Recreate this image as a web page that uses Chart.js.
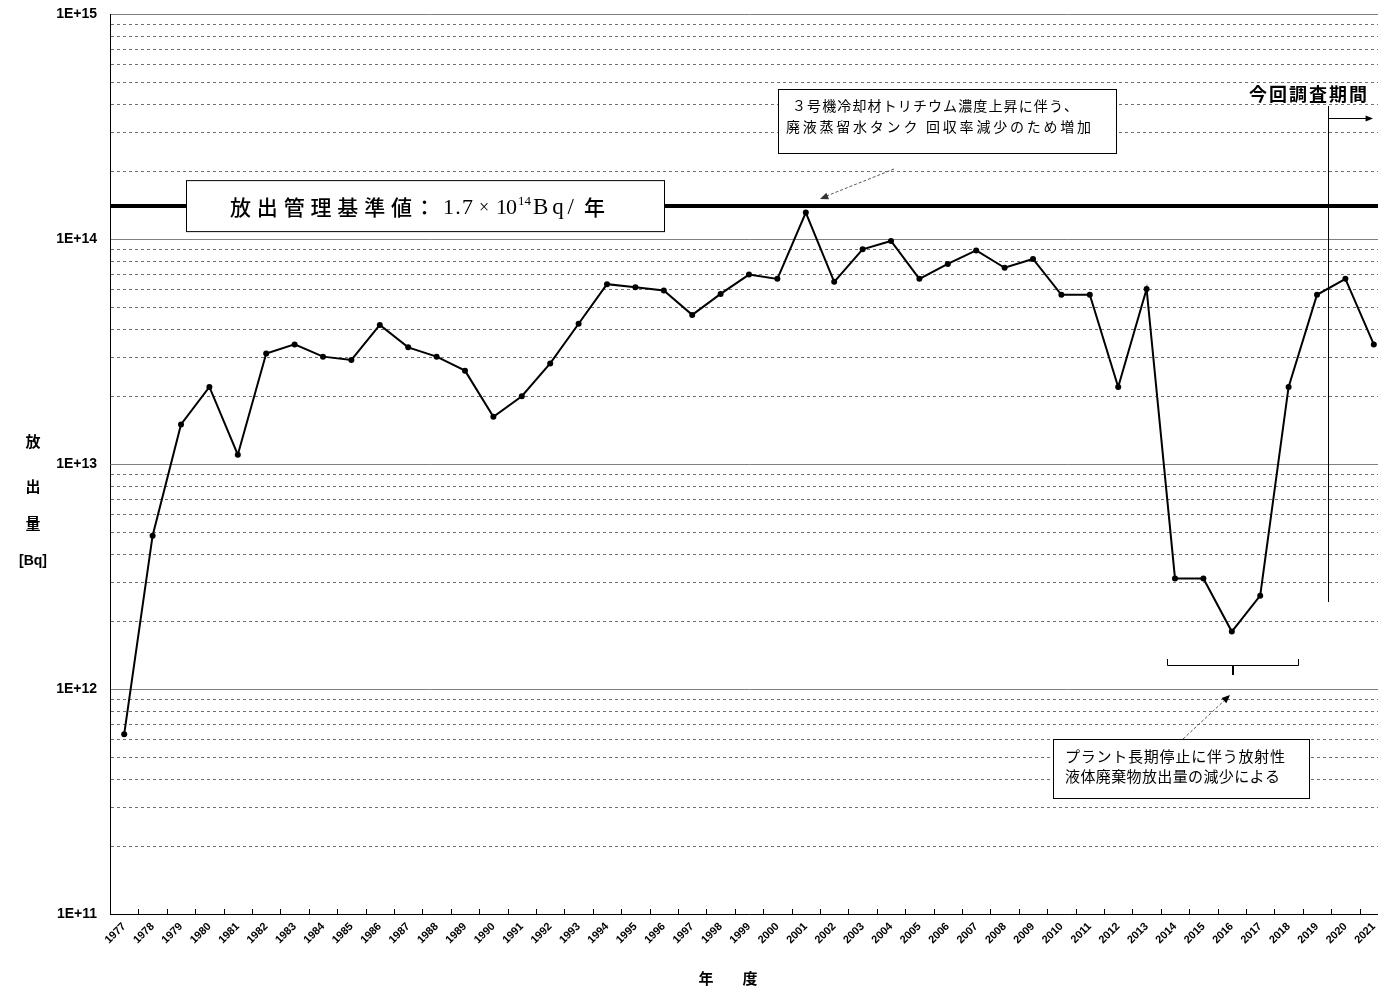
<!DOCTYPE html>
<html><head><meta charset="utf-8">
<script src="https://cdn.jsdelivr.net/npm/chart.js@4.4.0/dist/chart.umd.min.js"></script>
<style>
html,body{margin:0;padding:0;background:#fff;overflow:hidden;width:1378px;height:990px}
#wrap{position:absolute;left:0;top:0;width:1392px;height:990px}
</style>
</head><body><div id="wrap"><canvas id="c" width="1392" height="990"></canvas></div>
<script>
const years = ['1977','1978','1979','1980','1981','1982','1983','1984','1985','1986','1987','1988','1989','1990','1991','1992','1993','1994','1995','1996','1997','1998','1999','2000','2001','2002','2003','2004','2005','2006','2007','2008','2009','2010','2011','2012','2013','2014','2015','2016','2017','2018','2019','2020','2021'];
const releases = [6.3e11,4.8e12,1.5e13,2.2e13,1.1e13,3.1e13,3.4e13,3.0e13,2.9e13,4.15e13,3.3e13,3.0e13,2.6e13,1.62e13,2.0e13,2.8e13,4.2e13,6.3e13,6.1e13,5.9e13,4.6e13,5.7e13,6.95e13,6.65e13,1.31e14,6.45e13,9.0e13,9.8e13,6.65e13,7.75e13,8.9e13,7.45e13,8.15e13,5.65e13,5.65e13,2.2e13,6.0e13,3.1e12,3.1e12,1.8e12,2.6e12,2.2e13,5.65e13,6.65e13,3.4e13];
const yTickValues = [1e11,1e12,1e13,1e14,1e15];
const yTickLabels = ['1E+11','1E+12','1E+13','1E+14','1E+15'];
const limitValue = 1.4e14;
const limitLabel = ['放出管理基準値', '：', '1.7', '×', '10', '14', 'Bq/', '年'];
const note1 = ['３号機冷却材トリチウム濃度上昇に伴う、', '廃液蒸留水タンク 回収率減少のため増加'];
const note2 = ['プラント長期停止に伴う放射性', '液体廃棄物放出量の減少による'];
const periodLabel = '今回調査期間';
const yTitle = ['放', '出', '量', '[Bq]'];
const xTitle = ['年', '度'];

const minorGrid = [];
for (let e = 11; e < 15; e++) for (let m = 2; m <= 9; m++) minorGrid.push(m * Math.pow(10, e));

const CJK = '"Noto Sans CJK JP", "Noto Sans", sans-serif';
const SERIF = '"Liberation Serif", "DejaVu Serif", serif';

function drawSpaced(ctx, text, x, y, target) {
  const chars = [...text];
  let total = 0;
  const ws = chars.map(c => { const w = ctx.measureText(c).width; total += w; return w; });
  const extra = chars.length > 1 ? (target - total) / (chars.length - 1) : 0;
  let cx = x;
  chars.forEach((c, i) => { ctx.fillText(c, cx, y); cx += ws[i] + extra; });
}
function arrowHead(ctx, x1, y1, x2, y2, size) {
  const a = Math.atan2(y2 - y1, x2 - x1);
  ctx.beginPath();
  ctx.moveTo(x2, y2);
  ctx.lineTo(x2 - size * Math.cos(a - 0.4), y2 - size * Math.sin(a - 0.4));
  ctx.lineTo(x2 - size * Math.cos(a + 0.4), y2 - size * Math.sin(a + 0.4));
  ctx.closePath();
  ctx.fill();
}

const gridPlugin = {
  id: 'gridPlugin',
  beforeDatasetsDraw(chart) {
    const {ctx, chartArea, scales} = chart;
    const y = scales.y, x = scales.x;
    ctx.save();
    ctx.strokeStyle = '#707070';
    ctx.lineWidth = 1;
    ctx.setLineDash([3, 3]);
    minorGrid.forEach(v => {
      const py = Math.round(y.getPixelForValue(v)) + 0.5;
      ctx.beginPath(); ctx.moveTo(chartArea.left + 1, py); ctx.lineTo(chartArea.right, py); ctx.stroke();
    });
    ctx.setLineDash([]);
    ctx.strokeStyle = '#000';
    for (let i = 1; i < years.length; i++) {
      const px = Math.round((x.getPixelForValue(i - 1) + x.getPixelForValue(i)) / 2) + 0.5;
      ctx.beginPath(); ctx.moveTo(px, chartArea.bottom); ctx.lineTo(px, chartArea.bottom - 5); ctx.stroke();
    }
    const ly = y.getPixelForValue(limitValue);
    ctx.lineWidth = 4;
    ctx.beginPath(); ctx.moveTo(chartArea.left, ly); ctx.lineTo(chartArea.right, ly); ctx.stroke();
    ctx.restore();
  },
  afterDatasetsDraw(chart) {
    const {ctx, chartArea, scales} = chart;
    const y = scales.y, x = scales.x;
    ctx.save();
    ctx.strokeStyle = '#000';
    const ly = y.getPixelForValue(limitValue);
    ctx.fillStyle = '#fff';
    ctx.fillRect(186, ly - 26, 478, 51);
    ctx.lineWidth = 1;
    ctx.strokeRect(186.5, ly - 25.5, 478, 51);
    ctx.fillStyle = '#000';
    ctx.textBaseline = 'middle';
    ctx.textAlign = 'left';
    ctx.font = '500 21px ' + CJK;
    drawSpaced(ctx, limitLabel[0], 230, ly + 1, 182);
    ctx.fillText(limitLabel[1], 414, ly + 1);
    ctx.font = '22px ' + SERIF;
    drawSpaced(ctx, limitLabel[2], 443, ly + 2, 30);
    ctx.font = '18px ' + SERIF;
    ctx.fillText(limitLabel[3], 479, ly + 2);
    ctx.font = '22px ' + SERIF;
    drawSpaced(ctx, limitLabel[4], 496, ly + 2, 21);
    ctx.font = '13px ' + SERIF;
    ctx.fillText(limitLabel[5], 518, ly - 5);
    ctx.font = '23px ' + SERIF;
    drawSpaced(ctx, limitLabel[6], 533, ly + 2, 41);
    ctx.font = '500 21px ' + CJK;
    ctx.fillText(limitLabel[7], 584, ly + 1);

    ctx.fillStyle = '#fff';
    ctx.fillRect(778, 89, 338, 64);
    ctx.strokeRect(778.5, 89.5, 338, 64);
    ctx.fillStyle = '#000';
    ctx.font = '14px ' + CJK;
    drawSpaced(ctx, note1[0], 792, 106, 286);
    drawSpaced(ctx, note1[1], 786, 127, 305);
    ctx.strokeStyle = '#555';
    ctx.setLineDash([3, 2]);
    ctx.beginPath(); ctx.moveTo(894, 169); ctx.lineTo(824, 197); ctx.stroke();
    ctx.setLineDash([]);
    ctx.fillStyle = '#333';
    arrowHead(ctx, 894, 169, 820, 199, 9);

    ctx.fillStyle = '#fff';
    ctx.fillRect(1053, 739, 256, 59);
    ctx.strokeStyle = '#000';
    ctx.strokeRect(1053.5, 739.5, 256, 59);
    ctx.fillStyle = '#000';
    ctx.font = '15px ' + CJK;
    drawSpaced(ctx, note2[0], 1065, 756, 220);
    drawSpaced(ctx, note2[1], 1065, 776, 215);
    ctx.strokeStyle = '#555';
    ctx.setLineDash([3, 2]);
    ctx.beginPath(); ctx.moveTo(1183, 739); ctx.lineTo(1226, 699); ctx.stroke();
    ctx.setLineDash([]);
    ctx.fillStyle = '#000';
    arrowHead(ctx, 1183, 739, 1230, 695, 9);
    ctx.strokeStyle = '#000';
    ctx.lineWidth = 1;
    ctx.beginPath();
    ctx.moveTo(1167.5, 659); ctx.lineTo(1167.5, 665.5); ctx.lineTo(1298.5, 665.5); ctx.lineTo(1298.5, 659);
    ctx.stroke();
    ctx.lineWidth = 2;
    ctx.beginPath(); ctx.moveTo(1233, 665); ctx.lineTo(1233, 675); ctx.stroke();

    const vx = Math.round(x.getPixelForValue(42) + 0.38 * (x.getPixelForValue(43) - x.getPixelForValue(42))) + 0.5;
    ctx.lineWidth = 1;
    ctx.beginPath(); ctx.moveTo(vx, 106); ctx.lineTo(vx, 602); ctx.stroke();
    ctx.beginPath(); ctx.moveTo(vx, 118.5); ctx.lineTo(1366, 118.5); ctx.stroke();
    arrowHead(ctx, vx, 118.5, 1373, 118.5, 8);
    ctx.font = 'bold 18px ' + CJK;
    drawSpaced(ctx, periodLabel, 1249, 94, 118);

    ctx.font = 'bold 15px ' + CJK;
    ctx.textAlign = 'center';
    ctx.fillText(yTitle[0], 33, 441);
    ctx.fillText(yTitle[1], 33, 486);
    ctx.fillText(yTitle[2], 33, 523);
    ctx.font = 'bold 14px "Liberation Sans", Arial, sans-serif';
    ctx.fillText(yTitle[3], 33, 561);
    ctx.font = 'bold 15px ' + CJK;
    ctx.fillText(xTitle[0], 706, 978);
    ctx.fillText(xTitle[1], 750, 978);
    ctx.restore();
  }
};

new Chart(document.getElementById('c'), {
  type: 'line',
  data: {
    labels: years,
    datasets: [{
      data: releases,
      borderColor: '#000',
      backgroundColor: '#000',
      borderWidth: 2,
      pointRadius: 3,
      pointBackgroundColor: '#000',
      pointBorderColor: '#000',
      pointBorderWidth: 0,
      tension: 0,
      fill: false
    }]
  },
  options: {
    responsive: false,
    animation: false,
    devicePixelRatio: 1,
    layout: {padding: {left: 0, right: 2, top: 14, bottom: 0}},
    plugins: {legend: {display: false}, title: {display: false}, tooltip: {enabled: false}},
    scales: {
      x: {
        type: 'category',
        offset: true,
        grid: {display: false, drawTicks: false},
        border: {display: true, color: '#000', width: 1},
        ticks: {
          autoSkip: false,
          minRotation: 45,
          maxRotation: 45,
          padding: 6,
          color: '#000',
          font: {family: '"Liberation Sans", Arial, sans-serif', size: 11, weight: 'bold'}
        },
        afterFit(s) { s.height = 76; s.paddingLeft = 0; s.paddingRight = 0; }
      },
      y: {
        type: 'logarithmic',
        min: 1e11,
        max: 1e15,
        afterBuildTicks(s) { s.ticks = yTickValues.map(v => ({value: v})); },
        grid: {color: '#808080', lineWidth: 1, drawTicks: false},
        border: {display: true, color: '#000', width: 1},
        ticks: {
          padding: 13,
          color: '#000',
          font: {family: '"Liberation Sans", Arial, sans-serif', size: 14, weight: 'bold'},
          callback(v, i) { return yTickLabels[i]; }
        },
        afterFit(s) { s.width = 110; s.paddingTop = 0; s.paddingBottom = 0; }
      }
    }
  },
  plugins: [gridPlugin]
});
</script>
</body></html>
